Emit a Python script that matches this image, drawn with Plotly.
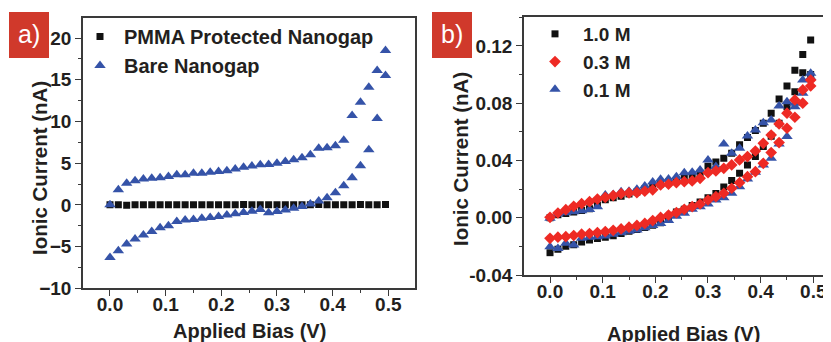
import plotly.graph_objects as go

# ---------------- data ----------------
BIAS = [0.000, 0.015, 0.030, 0.045, 0.060, 0.075, 0.090, 0.105, 0.120, 0.135,
        0.150, 0.165, 0.180, 0.195, 0.210, 0.225, 0.240, 0.255, 0.270, 0.285,
        0.300, 0.315, 0.330, 0.345, 0.360, 0.375, 0.390, 0.405, 0.420, 0.435,
        0.450, 0.465, 0.480, 0.495]

# panel a (nA)
PMMA = [0.0, 0.0, -0.05, 0.0, 0.0, 0.0, 0.0, 0.0, 0.0, 0.0,
        0.0, 0.0, 0.0, 0.0, 0.0, 0.0, 0.05, 0.0, 0.0, 0.0,
        0.0, 0.0, 0.0, 0.0, 0.0, 0.05, 0.0, 0.0, 0.0, 0.0,
        0.05, 0.0, 0.0, 0.05]
BARE_UP = [0.0, 1.8, 2.6, 2.9, 3.1, 3.2, 3.25, 3.4, 3.6, 3.6,
           3.8, 3.8, 3.9, 4.0, 4.1, 4.3, 4.5, 4.65, 4.8, 4.85,
           5.0, 5.2, 5.4, 5.65, 6.0, 6.8, 6.85, 7.1, 7.75, 10.7,
           12.3, 14.1, 16.1, 18.5]
BARE_DOWN = [-6.3, -5.5, -4.7, -4.1, -3.6, -3.2, -2.75, -2.5, -2.0, -1.8,
             -1.75, -1.6, -1.5, -1.4, -1.2, -1.05, -0.9, -0.75, -0.55, -0.95,
             -0.8, -0.6, -0.4, -0.2, 0.1, 0.45, 0.85, 1.45, 2.3, 3.25,
             4.7, 6.6, 10.35, 15.5]

# panel b (nA)
M10_UP = [0.0, 0.0020, 0.0030, 0.0040, 0.0050, 0.0062, 0.0085, 0.0125, 0.0140, 0.0150,
          0.0165, 0.0180, 0.0200, 0.0220, 0.0235, 0.0250, 0.0262, 0.0275, 0.0290, 0.0310,
          0.0360, 0.0390, 0.0415, 0.0450, 0.0510, 0.0560, 0.0610, 0.0660, 0.0730, 0.0830,
          0.0920, 0.1030, 0.1140, 0.1242]
M10_DOWN = [-0.0244, -0.0221, -0.0200, -0.0188, -0.0170, -0.0155, -0.0145, -0.0137, -0.0125, -0.0110,
            -0.0095, -0.0082, -0.0068, -0.0052, -0.0035, 0.0005, 0.0040, 0.0060, 0.0085, 0.0110,
            0.0140, 0.0170, 0.0215, 0.0260, 0.0310, 0.0369, 0.0427, 0.0497, 0.0570, 0.0660,
            0.0776, 0.0880, 0.1013, 0.1000]
M03_UP = [0.0003, 0.0033, 0.0056, 0.0080, 0.0098, 0.0112, 0.0130, 0.0142, 0.0155, 0.0168,
          0.0173, 0.0175, 0.0185, 0.0195, 0.0229, 0.0234, 0.0245, 0.0252, 0.0257, 0.0275,
          0.0315, 0.0327, 0.0345, 0.0369, 0.0404, 0.0427, 0.0466, 0.0520, 0.0578, 0.0655,
          0.0730, 0.0823, 0.0893, 0.0962]
M03_DOWN = [-0.0144, -0.0136, -0.0132, -0.0124, -0.0115, -0.0110, -0.0104, -0.0097, -0.0088, -0.0078,
            -0.0066, -0.0054, -0.0040, -0.0020, 0.0002, 0.0019, 0.0036, 0.0059, 0.0077, 0.0096,
            0.0124, 0.0147, 0.0171, 0.0206, 0.0245, 0.0287, 0.0322, 0.0380, 0.0455, 0.0525,
            0.0625, 0.0702, 0.0800, 0.0920]
M01_UP = [-0.0004, 0.0026, 0.0035, 0.0042, 0.0049, 0.0058, 0.0077, 0.0159, 0.0163, 0.0182,
          0.0185, 0.0199, 0.0222, 0.0250, 0.0268, 0.0270, 0.0287, 0.0315, 0.0318, 0.0334,
          0.0404, 0.0357, 0.0515, 0.0450, 0.0485, 0.0571, 0.0613, 0.0664, 0.0683, 0.0780,
          0.0811, 0.0800, 0.0962, 0.1009]
M01_DOWN = [-0.0202, -0.0215, -0.0179, -0.0191, -0.0144, -0.0137, -0.0133, -0.0128, -0.0115, -0.0105,
            -0.0095, -0.0085, -0.0070, -0.0055, -0.0040, -0.0020, 0.0010, 0.0031, 0.0059, 0.0077,
            0.0096, 0.0124, 0.0140, 0.0171, 0.0217, 0.0271, 0.0317, 0.0369, 0.0415, 0.0515,
            0.0567, 0.0776, 0.0869, 0.0980]

XTICKS = [0.0, 0.1, 0.2, 0.3, 0.4, 0.5]
XTICKTEXT = ["0.0", "0.1", "0.2", "0.3", "0.4", "0.5"]
YTICKS_A = [-10, -5, 0, 5, 10, 15, 20]
YTICKS_B = [-0.04, 0.0, 0.04, 0.08, 0.12]
YTICKTEXT_B = ["-0.04", "0.00", "0.04", "0.08", "0.12"]

# ---------------- style ----------------
# the page body has an 8px margin, so the figure is placed at (8, 8) in the window
OFF = 8
W, H = 831 - OFF, 342 - OFF
FONT = "Liberation Sans, Arial, sans-serif"
TXT = "#231f20"
AX = "#3a3a3a"
BLACK = "#111111"
BLUE = "#3553a8"
RED = "#ee2a24"
LABEL_RED = "#d0392b"


def px(x):
    """window x pixel -> paper fraction"""
    return (x - OFF) / W


def py(y):
    """window y pixel -> paper fraction"""
    return (H - (y - OFF)) / H


fig = go.Figure()

# panel a
fig.add_trace(go.Scatter(x=BIAS, y=PMMA, mode="markers", name="PMMA Protected Nanogap",
                         marker=dict(symbol="square", size=7, color=BLACK, line=dict(width=0)),
                         xaxis="x", yaxis="y", legend="legend"))
fig.add_trace(go.Scatter(x=BIAS + BIAS, y=BARE_UP + BARE_DOWN, mode="markers", name="Bare Nanogap",
                         marker=dict(symbol="triangle-up", size=10, color=BLUE, line=dict(width=0)),
                         xaxis="x", yaxis="y", legend="legend"))

# panel b
fig.add_trace(go.Scatter(x=BIAS + BIAS, y=M10_UP + M10_DOWN, mode="markers", name="1.0 M",
                         marker=dict(symbol="square", size=7, color=BLACK, line=dict(width=0)),
                         xaxis="x2", yaxis="y2", legend="legend2", legendrank=1))
fig.add_trace(go.Scatter(x=BIAS + BIAS, y=M01_UP + M01_DOWN, mode="markers", name="0.1 M",
                         marker=dict(symbol="triangle-up", size=10, color=BLUE, line=dict(width=0)),
                         xaxis="x2", yaxis="y2", legend="legend2", legendrank=3))
fig.add_trace(go.Scatter(x=BIAS + BIAS, y=M03_UP + M03_DOWN, mode="markers", name="0.3 M",
                         marker=dict(symbol="diamond", size=9, color=RED, line=dict(width=0)),
                         xaxis="x2", yaxis="y2", legend="legend2", legendrank=2))

tickfont = dict(family=FONT, size=19, color=TXT, weight="bold")
common = dict(showline=True, linecolor=AX, linewidth=1.5, ticks="outside", ticklen=6,
              tickwidth=1.2, tickcolor=AX, showgrid=False, zeroline=False, tickfont=tickfont)
minor = dict(ticks="outside", ticklen=3, tickwidth=1.2, tickcolor=AX, showgrid=False)

fig.update_layout(
    width=W, height=H, margin=dict(l=0, r=0, t=0, b=0, autoexpand=False),
    paper_bgcolor="white", plot_bgcolor="white",
    font=dict(family=FONT, color=TXT),
    showlegend=True,
    xaxis=dict(domain=[px(83), px(415)], range=[-0.0485, 0.548], tickvals=XTICKS,
               ticktext=XTICKTEXT, mirror=True, anchor="y", ticklabelstandoff=-8,
               minor=dict(minor, dtick=0.05, tick0=0), **common),
    yaxis=dict(domain=[py(288.3), py(18)], range=[-10, 22.4], tickvals=YTICKS_A,
               mirror=True, anchor="x",
               minor=dict(minor, dtick=2.5, tick0=0), **common),
    xaxis2=dict(domain=[px(524), 1.0], range=[-0.0494, 0.5336], tickvals=XTICKS,
                ticktext=XTICKTEXT, mirror=True, anchor="y2", ticklabelstandoff=-8,
                minor=dict(minor, dtick=0.05, tick0=0), **common),
    yaxis2=dict(domain=[py(275), py(17.3)], range=[-0.04, 0.14], tickvals=YTICKS_B,
                ticktext=YTICKTEXT_B, mirror=False, anchor="x2",
                minor=dict(minor, dtick=0.02, tick0=0), **common),
    legend=dict(x=px(76), y=py(17), xanchor="left", yanchor="top", bgcolor="rgba(0,0,0,0)",
                font=dict(family=FONT, size=20, color=TXT, weight="bold"),
                itemwidth=38, tracegroupgap=0),
    legend2=dict(x=px(527), y=py(15), xanchor="left", yanchor="top", bgcolor="rgba(0,0,0,0)",
                 font=dict(family=FONT, size=19, color=TXT, weight="bold"),
                 itemwidth=46, tracegroupgap=0, traceorder="normal"),
)

# panel label boxes
for x0, x1, lab in [(9, 49, "a)"), (432, 472, "b)")]:
    fig.add_shape(type="rect", xref="paper", yref="paper", x0=px(x0), x1=px(x1),
                  y0=py(58), y1=py(12), fillcolor=LABEL_RED, line=dict(width=0), layer="above")
    fig.add_annotation(x=px((x0 + x1) / 2), y=py(34), xref="paper", yref="paper",
                       text=lab, showarrow=False, xanchor="center", yanchor="middle",
                       font=dict(family=FONT, size=25, color="white"))

# axis titles
title_font = dict(family=FONT, size=20, color=TXT, weight="bold")
fig.add_annotation(x=px(249), y=py(318), xref="paper", yref="paper", text="Applied Bias (V)",
                   showarrow=False, xanchor="center", yanchor="top", font=title_font)
fig.add_annotation(x=px(683), y=py(321), xref="paper", yref="paper", text="Applied Bias (V)",
                   showarrow=False, xanchor="center", yanchor="top", font=title_font)
fig.add_annotation(x=px(39), y=py(168), xref="paper", yref="paper", text="Ionic Current (nA)",
                   showarrow=False, xanchor="center", yanchor="middle", textangle=-90,
                   font=dict(title_font, size=20.5))
fig.add_annotation(x=px(461), y=py(159), xref="paper", yref="paper", text="Ionic Current (nA)",
                   showarrow=False, xanchor="center", yanchor="middle", textangle=-90,
                   font=dict(title_font, size=20.5))

fig.write_html("out.html")
